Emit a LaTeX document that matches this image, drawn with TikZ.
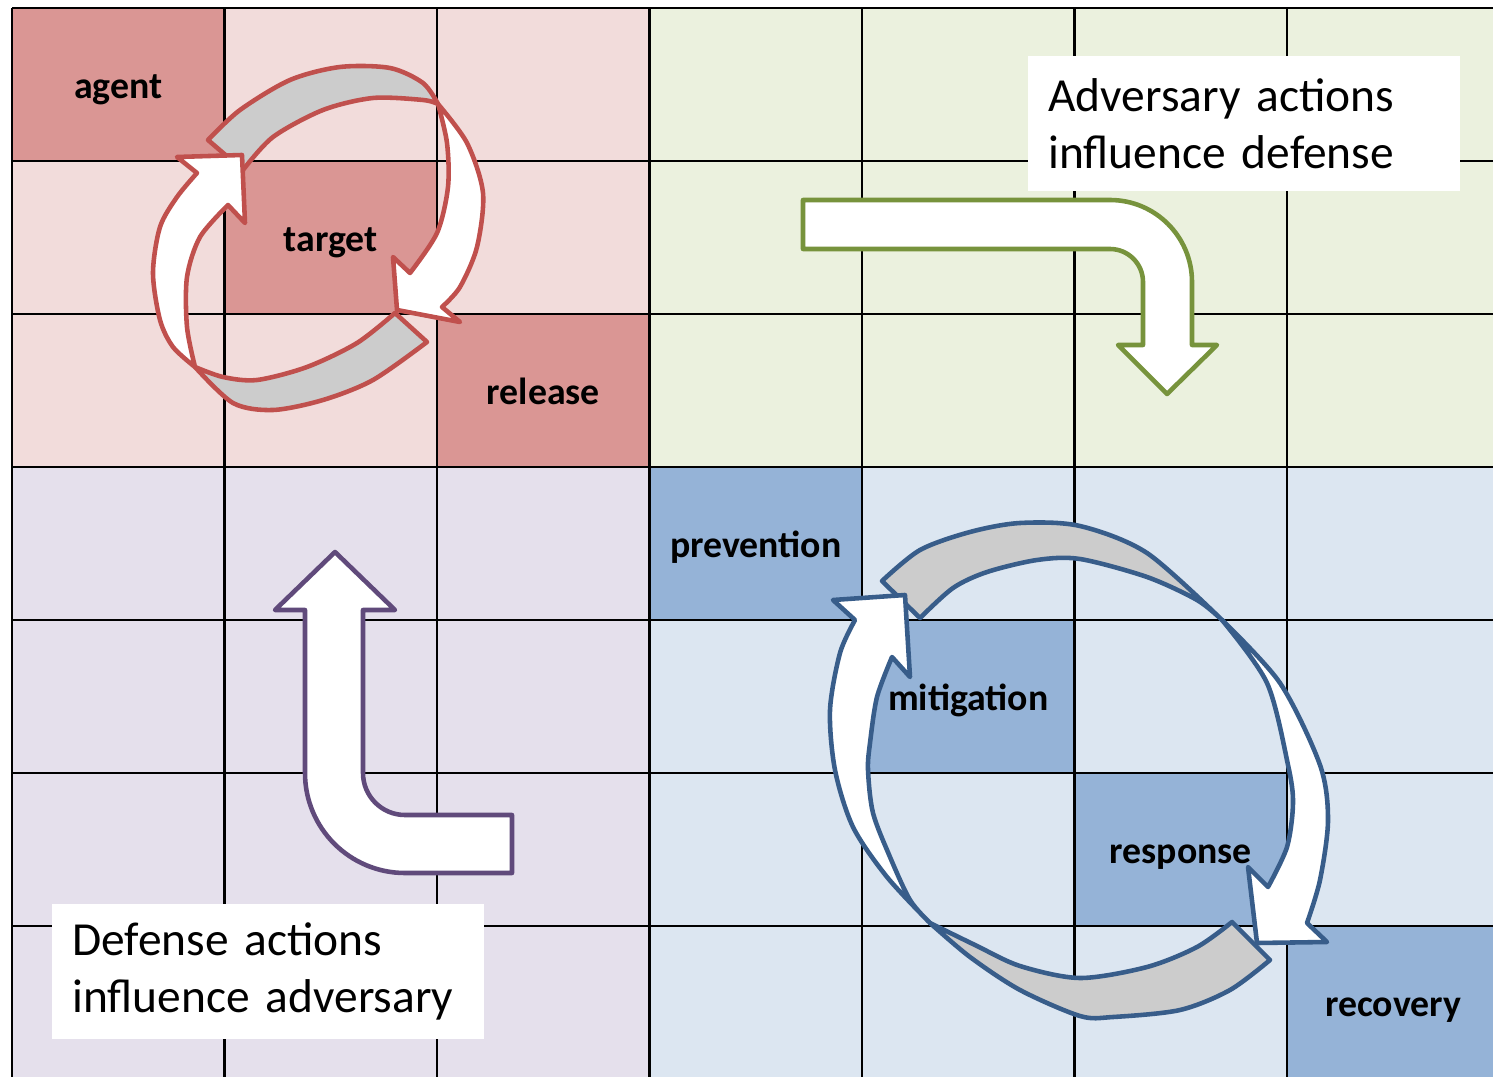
\documentclass[tikz,border=0pt]{standalone}
\usepackage{fontspec}
\setmainfont{Carlito}

\definecolor{redlight}{HTML}{F2DCDB}
\definecolor{reddark}{HTML}{DA9694}
\definecolor{greenlight}{HTML}{EBF1DE}
\definecolor{purplelight}{HTML}{E5E0EC}
\definecolor{bluelight}{HTML}{DCE6F1}
\definecolor{bluedark}{HTML}{95B3D7}
\definecolor{redline}{HTML}{C0504D}
\definecolor{blueline}{HTML}{385D8A}
\definecolor{greenline}{HTML}{77933C}
\definecolor{purpleline}{HTML}{604A7B}
\definecolor{bandgray}{HTML}{CCCCCC}

\tikzstyle{gridline}=[line width=1.2pt, black]
\tikzstyle{lbl}=[font=\bfseries\fontsize{21.5}{25}\selectfont, text height=0.68em, text depth=0pt]
\tikzstyle{txtbox}=[fill=white, anchor=north west, minimum width=8.64cm, minimum height=2.7cm,
  text width=7.84cm, inner xsep=0.4cm, inner ysep=0pt, align=left, font=\fontsize{27}{32.5}\selectfont]
\tikzstyle{backband}=[fill=bandgray, line width=2.6pt, line join=round]
\tikzstyle{frontband}=[fill=white, line width=2.6pt, line join=round]
\tikzstyle{bentarrow}=[fill=white, line width=2.6pt, line join=round]

\begin{document}
\begin{tikzpicture}[x=0.02cm, y=-0.02cm]
    \useasboundingbox (0,0) rectangle (1493,1077);
    \clip (0,0) rectangle (1493,1077);
    \fill[white] (0,0) rectangle (1493,1077);

    % 四个区域
    \fill[redlight] (12,8) rectangle (649.5,467);
    \fill[greenlight] (649.5,8) rectangle (1493,467);
    \fill[purplelight] (12,467) rectangle (649.5,1077);
    \fill[bluelight] (649.5,467) rectangle (1493,1077);

    % 对角线上的格子
    \foreach \i in {0,1,2}
        \fill[reddark] ({12+212.5*\i},{8+153*\i}) rectangle ++(212.5,153);
    \foreach \i in {3,...,6}
        \fill[bluedark] ({12+212.5*\i},{8+153*\i}) rectangle ++(212.5,153);

    % 网格
    \foreach \i in {0,...,6}
        \draw[gridline] ({12+212.5*\i},8) -- ({12+212.5*\i},1077);
    \foreach \j in {0,...,6}
        \draw[gridline] (12,{8+153*\j}) -- (1493,{8+153*\j});

    % 标签
    \foreach \i/\lab in {0/agent,1/target,2/release,3/prevention,4/mitigation,5/response,6/recovery}
        \node[lbl] (\lab) at ({118.25+212.5*\i},{92.5+153*\i}) {\lab};

    % 红色循环箭头
    \draw[backband, draw=redline] plot[smooth] coordinates {(208,140) (240,110) (290,80) (340,67) (390,68) (423,83) (438,104)}
        -- plot[smooth] coordinates {(438,104) (423,100) (373,98) (323,110) (273,137) (243,170)} -- cycle;
    \draw[backband, draw=redline] plot[smooth] coordinates {(427,342) (373,380) (323,400) (273,410) (233,403) (195,367)}
        -- plot[smooth] coordinates {(195,367) (223,377) (257,380) (307,367) (357,343) (395,313)} -- cycle;
    \draw[frontband, draw=redline] plot[smooth] coordinates {(438,104) (467,143) (483,193) (477,247) (460,287) (442,307)}
        -- (460,322) -- (397,310) -- (393,257)
        -- plot[smooth] coordinates {(410,273) (437,233) (448,187) (447,143) (438,104)} -- cycle;
    \draw[frontband, draw=redline] plot[smooth] coordinates {(195,367) (173,347) (160,320) (153,273) (160,227) (177,197) (197,173)}
        -- (177,157) -- (242,155) -- (245,223)
        -- plot[smooth] coordinates {(228,205) (200,237) (187,277) (187,327) (195,367)} -- cycle;

    % 蓝色循环箭头
    \draw[backband, draw=blueline] plot[smooth] coordinates {(882,581) (920,550) (970,532) (1020,523) (1080,526) (1147,553) (1222,620)}
        -- plot[smooth] coordinates {(1222,620) (1197,600) (1147,577) (1080,559) (1037,560) (987,572) (953,588) (920,618)} -- cycle;
    \draw[backband, draw=blueline] plot[smooth] coordinates {(1270,960) (1230,990) (1180,1010) (1113,1017) (1080,1016) (1020,990) (970,957) (930,923)}
        -- plot[smooth] coordinates {(930,923) (975,945) (1020,966) (1080,978) (1147,967) (1197,947) (1232,922)} -- cycle;
    \draw[frontband, draw=blueline] plot[smooth] coordinates {(1222,620) (1280,683) (1320,765) (1328,820) (1320,880) (1307,923)}
        -- (1327,942) -- (1257,943) -- (1248,867)
        -- plot[smooth] coordinates {(1268,887) (1287,847) (1293,803) (1288,765) (1267,683) (1222,620)} -- cycle;
    \draw[frontband, draw=blueline] plot[smooth] coordinates {(930,923) (887,877) (853,827) (835,770) (830,710) (840,653) (855,620)}
        -- (833,600) -- (905,595) -- (910,677)
        -- plot[smooth] coordinates {(892,657) (877,697) (870,743) (868,770) (873,813) (890,857) (910,900) (930,923)} -- cycle;

    % 绿色折线箭头
    \draw[bentarrow, draw=greenline] (803,200) -- (1110,200) arc[start angle=-90, end angle=0, radius=82]
        -- (1192,345) -- (1217,345) -- (1167,394) -- (1118,345) -- (1143,345) -- (1143,282)
        arc[start angle=0, end angle=-90, radius=33] -- (803,249) -- cycle;

    % 紫色折线箭头
    \draw[bentarrow, draw=purpleline] (335,552) -- (395,610) -- (363,610) -- (363,773)
        arc[start angle=180, end angle=90, radius=42] -- (512,815) -- (512,873) -- (405,873)
        arc[start angle=90, end angle=180, radius=100] -- (305,610) -- (275,610) -- cycle;

    % 文字框
    \node[txtbox] (advtext) at (1028,56) {Adversary actions\\influence defense};
    \node[txtbox] (deftext) at (52,904) {Defense actions\\influence adversary};
\end{tikzpicture}
\end{document}
